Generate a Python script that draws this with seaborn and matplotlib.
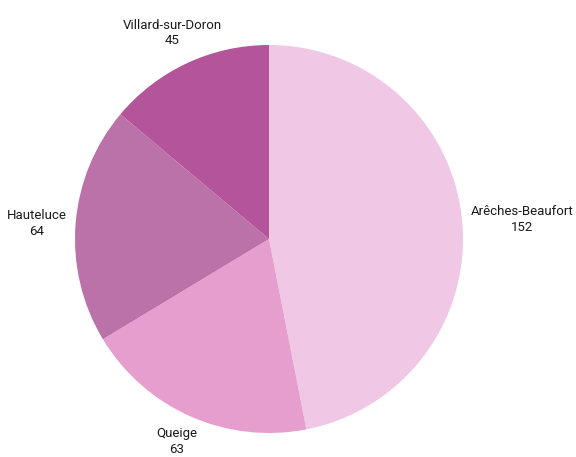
import matplotlib
matplotlib.use("Agg")
import matplotlib.pyplot as plt
import numpy as np
import seaborn as sns

communes = ["Arêches-Beaufort", "Queige", "Hauteluce", "Villard-sur-Doron"]
values = [152, 63, 64, 45]
colors = ["#F0C7E4", "#E59ECE", "#BA72A8", "#B4549A"]

sns.set_theme(style="white")
plt.rcParams["font.family"] = ["Roboto", "DejaVu Sans"]

fig = plt.figure(figsize=(5.76, 4.57), dpi=100)
ax = fig.add_axes([75 / 576, 24 / 457, 388 / 576, 388 / 457])

wedges, _ = ax.pie(
    values,
    colors=sns.color_palette(colors),
    startangle=90,
    counterclock=False,
    wedgeprops=dict(linewidth=0),
)

# Labels sit just outside each wedge, anchored on the side facing the pie
for w, name, val in zip(wedges, communes, values):
    ang = np.deg2rad((w.theta1 + w.theta2) / 2)
    c, s = np.cos(ang), np.sin(ang)
    if abs(c) > 0.7:
        x, y = 1.045 * c, 1.045 * s
        ha, va = ("left" if c > 0 else "right"), "center"
    else:
        x, y = 1.18 * c, (1.09 if s > 0 else 1.06) * s
        ha, va = "center", ("bottom" if s > 0 else "top")
    ax.text(x, y, f"{name}\n{val}", ha=ha, va=va,
            multialignment="center", fontsize=9.5, color="#1a1a1a",
            linespacing=1.25, clip_on=False)

ax.set_xlim(-1, 1)
ax.set_ylim(-1, 1)
ax.set_aspect("equal")
ax.axis("off")

fig.savefig("out.png", dpi=100)
